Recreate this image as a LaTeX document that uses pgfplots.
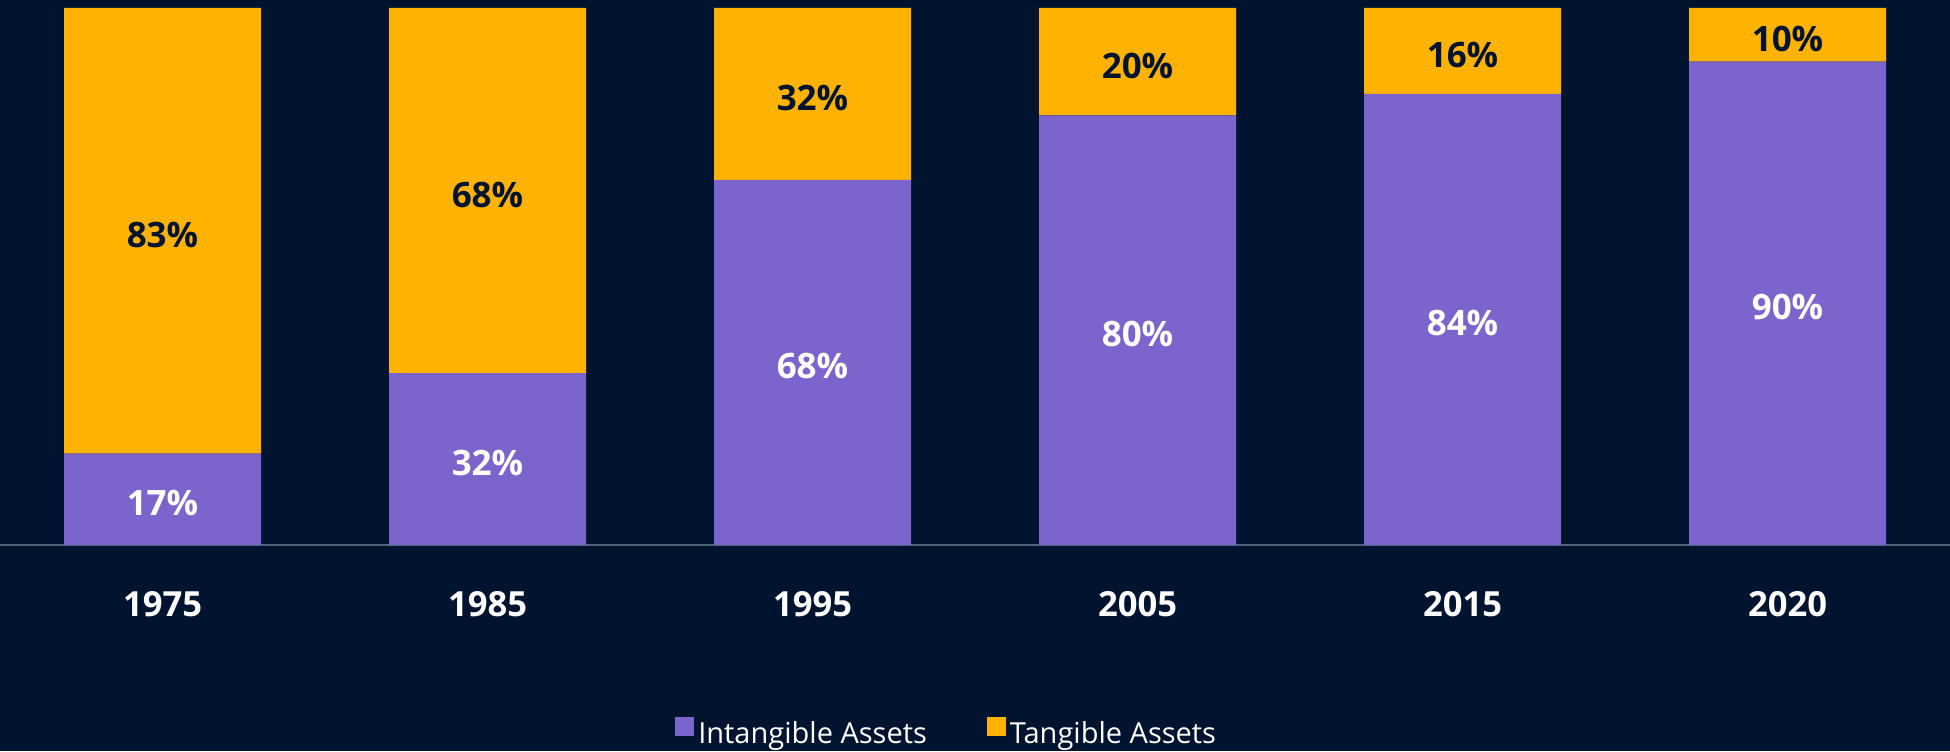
\documentclass[border=0pt]{standalone}
\usepackage{pgfplots}
\pgfplotsset{compat=1.18}
\usepackage{pgfplotstable}
\usepackage{fontspec}
\setmainfont{Open Sans}
\definecolor{bg}{HTML}{001430}
\definecolor{purp}{HTML}{7B64CC}
\definecolor{orng}{HTML}{FFB200}
\definecolor{axisline}{HTML}{4B6478}
\definecolor{navy}{HTML}{001430}
\pgfplotstableread{
x year intan tan
0 1975 17 83
1 1985 32 68
2 1995 68 32
3 2005 80 20
4 2015 84 16
5 2020 90 10
}\datatable
\begin{document}
\begin{tikzpicture}
\fill[bg] (0,0) rectangle (975pt,375.5pt);
\begin{axis}[
  at={(0pt,103pt)}, anchor=south west,
  scale only axis, width=975pt, height=268.5pt,
  xmin=-0.5, xmax=5.5, ymin=0, ymax=100,
  ybar stacked, bar width=98.5pt,
  clip=false,
  axis y line=none,
  axis x line*=bottom,
  x axis line style={draw=axisline, line width=1pt},
  xtick=data,
  xticklabels from table={\datatable}{year},
  xtick style={draw=none},
  xticklabel style={anchor=center, yshift=-29.5pt, text=white, font=\fontsize{17.3}{20}\selectfont\bfseries},
  legend style={at={(0.486,-0.3516)}, anchor=center, draw=none, fill=none, text=white,
    font=\fontsize{14.5}{16}\selectfont, legend columns=2,
    /tikz/every even column/.append style={column sep=28pt}},
  legend image code/.code={\fill[#1] (0pt,-1pt) rectangle (9.5pt,8.5pt);},
]
\addplot[fill=purp, draw=none,
  visualization depends on={\thisrow{intan} \as \segval},
  nodes near coords={\pgfmathprintnumber[assume math mode=true, int detect]{\segval}\%},
  every node near coord/.append style={anchor=center, yshift=-2pt, text=white, font=\fontsize{17.5}{20}\selectfont\bfseries}]
  table[x=x, y=intan]{\datatable};
\addlegendentry{Intangible Assets}
\addplot[fill=orng, draw=none,
  visualization depends on={\thisrow{tan} \as \segval},
  nodes near coords={\pgfmathprintnumber[assume math mode=true, int detect]{\segval}\%},
  every node near coord/.append style={anchor=center, yshift=-2pt, text=navy, font=\fontsize{17.5}{20}\selectfont\bfseries}]
  table[x=x, y=tan]{\datatable};
\addlegendentry{Tangible Assets}
\end{axis}
\pgfresetboundingbox
\path[use as bounding box] (0,0) rectangle (975pt,375.5pt);
\end{tikzpicture}
\end{document}
